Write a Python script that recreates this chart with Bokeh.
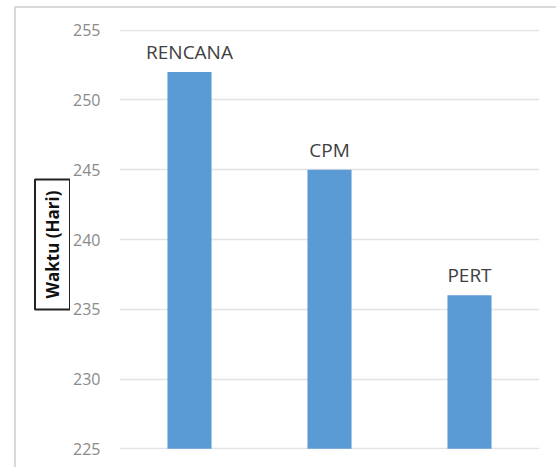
import math
from bokeh.plotting import figure
from bokeh.layouts import row
from bokeh.models import ColumnDataSource, Range1d, FactorRange, Label, LabelSet, FixedTicker
from bokeh.core.properties import value
from bokeh.embed import file_html
from bokeh.resources import INLINE

categories = ["RENCANA", "CPM", "PERT"]
values = [252, 245, 236]
y_ticks = [225, 230, 235, 240, 245, 250, 255]
y_label = "Waktu (Hari)"

BAR = "#5B9BD5"
H = 459

src = ColumnDataSource(dict(cat=categories, val=values, base=[225] * len(values)))

# side panel holding the boxed y-axis title
fa = figure(width=54, height=H, x_range=Range1d(0, 1), y_range=Range1d(0, 1),
            output_backend="svg", toolbar_location=None,
            min_border_left=0, min_border_right=0, min_border_top=0, min_border_bottom=0)
fa.axis.visible = False
fa.grid.visible = False
fa.outline_line_color = None
fa.background_fill_color = "white"
fa.border_fill_color = "white"
ylab = Label(x=36, y=205, x_units="screen", y_units="screen", text=y_label,
             angle=math.pi / 2, text_align="center", text_baseline="middle",
             text_font="Open Sans", text_font_style="bold", text_font_size="17px",
             text_color="#111111", border_line_color="#222222", border_line_width=2,
             background_fill_color="white", padding=(11, 6))
fa.add_layout(ylab)

p = figure(
    width=486, height=H,
    x_range=FactorRange(*categories, range_padding=0),
    y_range=Range1d(224.95, 255.05),
    output_backend="svg", toolbar_location=None,
    min_border_left=49, min_border_right=17,
    min_border_top=21, min_border_bottom=18,
)
p.outline_line_color = None
p.background_fill_color = "white"
p.border_fill_color = "white"

p.vbar(x="cat", top="val", bottom="base", width=0.315, source=src,
       fill_color=BAR, line_color=None)

labels = LabelSet(x="cat", y="val", text="cat", source=src,
                  text_align="center", text_baseline="bottom", y_offset=7,
                  text_font=value("Open Sans"), text_font_size=value("19px"),
                  text_color=value("#404040"))
p.add_layout(labels)

p.xaxis.visible = False
p.xgrid.visible = False
p.ygrid.grid_line_color = "#e3e3e3"
p.ygrid.grid_line_width = 1.5
p.yaxis.ticker = FixedTicker(ticks=y_ticks)
p.yaxis.axis_line_color = None
p.yaxis.major_tick_line_color = None
p.yaxis.minor_tick_line_color = None
p.yaxis.major_label_standoff = 13
p.yaxis.major_label_text_font = "Open Sans"
p.yaxis.major_label_text_font_size = "16px"
p.yaxis.major_label_text_color = "#8a8a8a"

layout = row(fa, p)
layout.margin = (6, 0, 0, 14)
layout.styles = {"border-left": "2px solid #d9d9d9", "border-top": "2px solid #d9d9d9"}

open("out.html", "w").write(file_html(layout, INLINE))
